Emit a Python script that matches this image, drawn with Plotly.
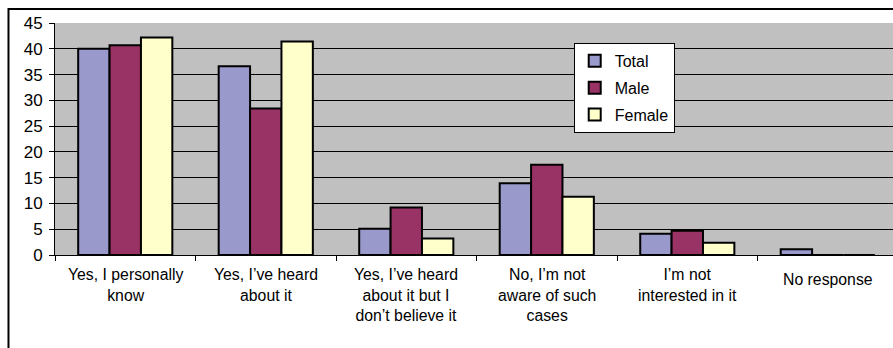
import plotly.graph_objects as go

categories = [
    "Yes, I personally<br>know",
    "Yes, I’ve heard<br>about it",
    "Yes, I’ve heard<br>about it but I<br>don’t believe it",
    "No, I’m not<br>aware of such<br>cases",
    "I’m not<br>interested in it",
    "No response",
]
cat_keys = ["c1", "c2", "c3", "c4", "c5", "c6"]
total = [40.0, 36.6, 5.1, 13.9, 4.1, 1.1]
male = [40.7, 28.4, 9.2, 17.5, 4.7, 0]
female = [42.2, 41.4, 3.2, 11.3, 2.4, 0]
series_names = ["Total", "Male", "Female"]
y_ticks = [0, 5, 10, 15, 20, 25, 30, 35, 40, 45]

colors = ["#9999CC", "#993366", "#FFFFCC"]

fig = go.Figure()
for i, (name, vals) in enumerate(zip(series_names, [total, male, female])):
    fig.add_trace(go.Bar(
        x=cat_keys, y=vals, name=name, legendgroup=name,
        marker=dict(color=colors[i], line=dict(color="black", width=2)),
    ))

for key, lab in zip(cat_keys, categories):
    n = lab.count("<br>") + 1
    fig.add_annotation(
        x=key, xref="x", y=0, yref="paper", yanchor="top",
        text=lab, showarrow=False,
        yshift=-9 if n > 1 else -14,
        font=dict(family="Liberation Sans, Arial", size=15.8, color="black"),
    )

# outer chart frame (top and left edges visible in the reference)
fig.add_shape(type="rect", xref="paper", yref="paper",
              x0=-0.0555, x1=1.05, y0=-0.5, y1=1.06,
              line=dict(color="black", width=2), fillcolor="rgba(0,0,0,0)",
              layer="above")

fig.update_layout(
    width=893, height=348,
    margin=dict(l=55, r=0, t=23, b=93),
    paper_bgcolor="white", plot_bgcolor="#C0C0C0",
    barmode="group", bargap=0.33, bargroupgap=0,
    font=dict(family="Liberation Sans, Arial", color="black"),
    legend=dict(
        x=0.619, y=0.914, xanchor="left", yanchor="top",
        bgcolor="white", bordercolor="black", borderwidth=1,
        font=dict(size=16), tracegroupgap=3,
    ),
    xaxis=dict(
        range=[-0.5, 5.464], showticklabels=False, tickson="boundaries",
        ticks="outside", ticklen=5, tickcolor="black",
        showline=True, linecolor="black", linewidth=1, showgrid=False,
    ),
    yaxis=dict(
        range=[0, 45], tickvals=y_ticks, ticks="outside", ticklen=5,
        tickcolor="black", showline=True, linecolor="black", linewidth=1,
        gridcolor="black", gridwidth=1, zeroline=False,
        tickfont=dict(size=17), ticklabelstandoff=3,
    ),
)

fig.write_html("out.html")
